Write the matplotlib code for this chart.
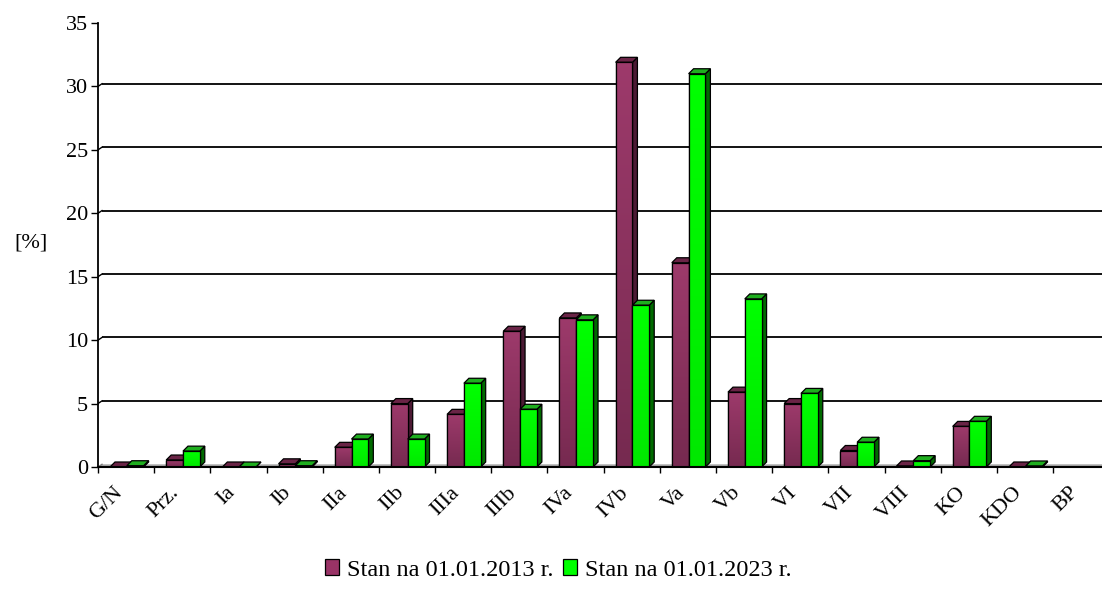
import numpy as np
import matplotlib
matplotlib.use("Agg")
import matplotlib.pyplot as plt
from matplotlib.patches import Polygon, Patch
from matplotlib.colors import LinearSegmentedColormap
from matplotlib.transforms import ScaledTranslation, blended_transform_factory

plt.rcParams['font.family'] = ['Liberation Serif', 'DejaVu Serif']

categories = ["G/N", "Prz.", "Ia", "Ib", "IIa", "IIb", "IIIa", "IIIb", "IVa",
              "IVb", "Va", "Vb", "VI", "VII", "VIII", "KO", "KDO", "BP"]
stan_2013 = [0.0, 0.55, 0.0, 0.25, 1.55, 5.0, 4.15, 10.7, 11.75,
             31.9, 16.1, 5.9, 5.0, 1.3, 0.08, 3.2, 0.0, np.nan]
stan_2023 = [0.1, 1.25, 0.0, 0.1, 2.2, 2.2, 6.6, 4.55, 11.6,
             12.75, 31.0, 13.25, 5.8, 1.95, 0.5, 3.6, 0.08, np.nan]
labels = ["Stan na 01.01.2013 r.", "Stan na 01.01.2023 r."]
yticks = [0, 5, 10, 15, 20, 25, 30, 35]

W, H = 1102, 601
cat_px = 56.18           # width of one category in pixels
unit_px = 444 / 35       # pixels per percent

fig = plt.figure(figsize=(W / 100, H / 100), dpi=100)
ax = fig.add_axes([98 / W, (H - 467) / H, (W - 98) / W, 444 / H])
xmax = (W - 98) / cat_px

# depth of bars and of the back wall, in data units
bdx, bdy = 5 / cat_px, 5 / unit_px
wdx, wdy = 4 / cat_px, 2.7 / unit_px

# back wall gridlines and floor
for v in yticks[1:]:
    col = '#b8b8b8' if v == 35 else 'black'
    ax.plot([wdx, xmax], [v + wdy, v + wdy], color=col, lw=1.3, zorder=1,
            solid_capstyle='butt')
    ax.plot([0, wdx], [v, v + wdy], color=col, lw=1.0, zorder=1)
ax.add_patch(Polygon([(0, 0), (wdx, wdy), (xmax, wdy), (xmax, 0)],
                     closed=True, facecolor='#a8a8a8', edgecolor='none', zorder=1))
ax.plot([0, wdx], [0, wdy], color='#808080', lw=1.0, zorder=1)

plum_cmap = LinearSegmentedColormap.from_list('plum', ['#762a50', '#9d3a6b'])
green_cmap = LinearSegmentedColormap.from_list('grn', ['#00e800', '#00ff00'])
styles = [
    dict(cmap=plum_cmap, side='#4c1a34', top='#6a2446', face='#993366'),
    dict(cmap=green_cmap, side='#006a00', top='#1fae1f', face='#00ff00'),
]

bar_w = 16.8 / cat_px
start = 12 / cat_px
grad = np.linspace(0, 1, 64).reshape(-1, 1)

x = np.arange(len(categories))
for i in x:
    for s, series in enumerate([stan_2013, stan_2023]):
        h = series[i]
        if np.isnan(h):
            continue
        st = styles[s]
        x0 = i + start + s * bar_w
        x1 = x0 + bar_w
        side = Polygon([(x1, 0), (x1 + bdx, bdy), (x1 + bdx, h + bdy), (x1, h)],
                       closed=True, facecolor=st['side'], edgecolor='black',
                       lw=0.9, zorder=3)
        top = Polygon([(x0, h), (x0 + bdx, h + bdy), (x1 + bdx, h + bdy), (x1, h)],
                      closed=True, facecolor=st['top'], edgecolor='black',
                      lw=0.9, zorder=3)
        ax.add_patch(side)
        ax.add_patch(top)
        bar = ax.bar(x0, h, width=bar_w, bottom=0, align='edge',
                     color=st['face'], edgecolor='black', lw=0.9, zorder=3)[0]
        if h > 0:
            im = ax.imshow(grad, cmap=st['cmap'], extent=[x0, x1, 0, h],
                           origin='lower', aspect='auto', zorder=3,
                           interpolation='bilinear')
            im.set_clip_path(bar)
            ax.bar(x0, h, width=bar_w, align='edge', fill=False,
                   edgecolor='black', lw=0.9, zorder=3)

ax.set_xlim(0, xmax)
ax.set_ylim(0, 35)

for side_name in ['top', 'right', 'bottom']:
    ax.spines[side_name].set_visible(False)
ax.spines['left'].set_linewidth(1.3)
ax.plot([0, xmax], [0, 0], color='black', lw=1.5, zorder=4, clip_on=False)

ax.set_yticks(yticks)
ax.tick_params(axis='y', direction='out', length=5, width=1, labelsize=16, pad=2)
ax.set_xticks(np.arange(0, 18), minor=True)
ax.set_xticks([])
ax.tick_params(axis='x', which='minor', direction='out', length=4, width=1)

# rotated category labels
trans = blended_transform_factory(ax.transData, ax.transAxes)
off = ScaledTranslation(-6 / 100, -23 / 100, fig.dpi_scale_trans)
for i, name in enumerate(categories):
    ax.text(i + 0.5, 0, name, transform=trans + off, rotation=45,
            rotation_mode='anchor', ha='right', va='center', fontsize=16)

fig.text(31 / W, 1 - 243 / H, '[%]', ha='center', va='center', fontsize=16)

handles = [Patch(facecolor='#993366', edgecolor='black', lw=0.9),
           Patch(facecolor='#00ff00', edgecolor='black', lw=0.9)]
fig.legend(handles, labels, loc='center', bbox_to_anchor=(558 / W, 1 - 570 / H),
           ncol=2, frameon=False, fontsize=17.5, handlelength=0.6,
           handleheight=0.6, handletextpad=0.3, columnspacing=0.4)

fig.savefig('out.png', dpi=100)
